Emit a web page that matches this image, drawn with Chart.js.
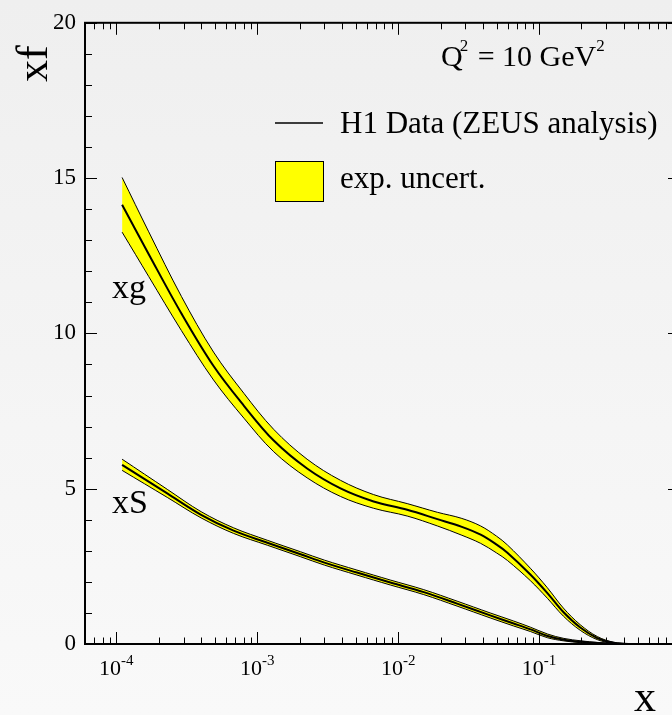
<!DOCTYPE html>
<html>
<head>
<meta charset="utf-8">
<title>xf vs x, Q2 = 10 GeV2</title>
<script src="https://cdn.jsdelivr.net/npm/chart.js@4.4.0/dist/chart.umd.min.js"></script>
<style>
  html, body {
    margin: 0;
    padding: 0;
    width: 672px;
    height: 715px;
    overflow: hidden;
    background: linear-gradient(to bottom, #efefef, #f9f9f9);
  }
  #pdf-chart { position: absolute; left: 0; top: 0; }
</style>
</head>
<body>
<canvas id="pdf-chart" width="690" height="715"></canvas>
<script>
// Gluon (xg): x points, central value and band edges
const xgX     = [1.1e-4, 1.7e-4, 2.9e-4, 4.9e-4, 8.05e-4, 1.31e-3, 2.26e-3, 3.9e-3, 6.7e-3, 1.16e-2, 1.9e-2, 2.8e-2, 3.85e-2, 5e-2, 5.96e-2, 8.67e-2, 0.1146, 0.1486, 0.196, 0.259, 0.336, 0.445, 0.7, 1.0];
const xgMid   = [14.14, 12.55, 10.64, 8.95, 7.67, 6.55, 5.65, 5.01, 4.59, 4.32, 4.02, 3.78, 3.52, 3.20, 2.94, 2.24, 1.64, 1.03, 0.53, 0.19, 0.04, 0.00, 0, 0];
const xgUpper = [15.02, 13.27, 11.19, 9.40, 8.07, 6.91, 5.95, 5.27, 4.81, 4.52, 4.24, 4.05, 3.80, 3.47, 3.19, 2.44, 1.81, 1.16, 0.62, 0.24, 0.06, 0.01, 0, 0];
const xgLower = [13.26, 11.83, 10.09, 8.50, 7.27, 6.19, 5.35, 4.75, 4.37, 4.12, 3.80, 3.51, 3.24, 2.93, 2.69, 2.04, 1.47, 0.90, 0.44, 0.14, 0.02, 0.00, 0, 0];

// Sea (xS)
const xsX     = [1.1e-4, 2.3e-4, 4e-4, 6.8e-4, 1.18e-3, 2.03e-3, 3e-3, 5.1e-3, 8.8e-3, 1.52e-2, 2.62e-2, 4.5e-2, 6.6e-2, 8.7e-2, 0.115, 0.15, 0.2, 0.26, 0.34, 0.45, 1.0];
const xsMid   = [5.77, 4.85, 4.16, 3.65, 3.26, 2.89, 2.62, 2.30, 1.98, 1.67, 1.30, 0.92, 0.66, 0.47, 0.26, 0.14, 0.07, 0.03, 0.01, 0, 0];
const xsUpper = [5.95, 4.98, 4.26, 3.74, 3.34, 2.97, 2.70, 2.38, 2.06, 1.75, 1.38, 1.00, 0.74, 0.54, 0.32, 0.18, 0.10, 0.05, 0.02, 0, 0];
const xsLower = [5.59, 4.72, 4.06, 3.56, 3.18, 2.81, 2.54, 2.22, 1.90, 1.59, 1.22, 0.84, 0.58, 0.40, 0.20, 0.10, 0.04, 0.01, 0.00, 0, 0];

// Axis ranges and labelled ticks
const xRange = [6e-5, 1];
const yRange = [0, 20];
const xLabelExponents = [-4, -3, -2, -1];

const SERIF = '"Liberation Serif", "Times New Roman", serif';
const BAND_YELLOW = '#ffff00';

function pts(xs, ys) {
    return xs.map((x, i) => ({ x: x, y: ys[i] }));
}

function edge(xs, ys, fill) {
    return {
        data: pts(xs, ys),
        borderColor: '#000',
        borderWidth: 1,
        backgroundColor: BAND_YELLOW,
        fill: fill,
        pointRadius: 0,
        tension: 0.35
    };
}

function central(xs, ys) {
    return {
        data: pts(xs, ys),
        borderColor: '#000',
        borderWidth: 2,
        fill: false,
        pointRadius: 0,
        tension: 0.35
    };
}

// Ticks point inwards on all four sides, plus all the free text
const frameAndText = {
    id: 'frameAndText',
    afterDatasetsDraw(chart) {
        const ctx = chart.ctx;
        const a = chart.chartArea;
        const xs = chart.scales.x;
        const ys = chart.scales.y;

        ctx.save();
        ctx.strokeStyle = '#000';
        ctx.fillStyle = '#000';

        // log ticks on bottom and top
        ctx.lineWidth = 1;
        ctx.beginPath();
        for (let d = -5; d <= 0; d++) {
            for (let m = 1; m <= 9; m++) {
                const v = m * Math.pow(10, d);
                if (v < xRange[0] || v > xRange[1]) continue;
                const px = Math.round(xs.getPixelForValue(v)) + 0.5;
                const len = m === 1 ? 12 : 6.5;
                ctx.moveTo(px, a.bottom);
                ctx.lineTo(px, a.bottom - len);
                ctx.moveTo(px, a.top);
                ctx.lineTo(px, a.top + len);
            }
        }
        // linear ticks on left and right
        for (let v = yRange[0]; v <= yRange[1]; v++) {
            const py = Math.round(ys.getPixelForValue(v)) + 0.5;
            const len = v % 5 === 0 ? 12 : 7;
            ctx.moveTo(a.left, py);
            ctx.lineTo(a.left + len, py);
            ctx.moveTo(a.right, py);
            ctx.lineTo(a.right - len, py);
        }
        ctx.stroke();

        // frame
        ctx.lineWidth = 2;
        ctx.strokeRect(a.left, a.top, a.right - a.left, a.bottom - a.top);

        // x tick labels 10^n
        xLabelExponents.forEach(function(e) {
            const px = xs.getPixelForValue(Math.pow(10, e));
            ctx.font = '22px ' + SERIF;
            const w1 = ctx.measureText('10').width;
            ctx.font = '15px ' + SERIF;
            const sup = String(e);
            const w2 = ctx.measureText(sup).width;
            const start = px - (w1 + w2) / 2;
            ctx.font = '22px ' + SERIF;
            ctx.fillText('10', start, 675);
            ctx.font = '15px ' + SERIF;
            ctx.fillText(sup, start + w1, 665);
        });

        // axis titles
        ctx.font = '44px ' + SERIF;
        ctx.fillText('x', 634, 711);
        ctx.save();
        ctx.translate(47, 82);
        ctx.rotate(-Math.PI / 2);
        ctx.fillText('xf', 0, 0);
        ctx.restore();

        // curve names
        ctx.font = '34px ' + SERIF;
        ctx.fillText('xg', 112, 298);
        ctx.fillText('xS', 112, 513);

        // Q^2 annotation
        let cx = 441;
        ctx.font = '30px ' + SERIF;
        ctx.fillText('Q', cx, 66);
        cx += ctx.measureText('Q').width - 3;
        ctx.font = '17px ' + SERIF;
        ctx.fillText('2', cx, 51);
        cx += ctx.measureText('2').width + 2;
        ctx.font = '30px ' + SERIF;
        ctx.fillText(' = 10 GeV', cx, 66);
        cx += ctx.measureText(' = 10 GeV').width;
        ctx.font = '17px ' + SERIF;
        ctx.fillText('2', cx, 51);

        // legend
        ctx.lineWidth = 1.5;
        ctx.beginPath();
        ctx.moveTo(275, 123);
        ctx.lineTo(323, 123);
        ctx.stroke();
        ctx.fillStyle = BAND_YELLOW;
        ctx.fillRect(275.5, 161.5, 48, 40);
        ctx.lineWidth = 1;
        ctx.strokeRect(275.5, 161.5, 48, 40);
        ctx.fillStyle = '#000';
        ctx.font = '31px ' + SERIF;
        ctx.fillText('H1 Data (ZEUS analysis)', 340, 133);
        ctx.fillText('exp. uncert.', 340, 188);

        ctx.restore();
    }
};

new Chart(document.getElementById('pdf-chart'), {
    type: 'line',
    data: {
        datasets: [
            edge(xgX, xgLower, false),
            edge(xgX, xgUpper, '-1'),
            central(xgX, xgMid),
            edge(xsX, xsLower, false),
            edge(xsX, xsUpper, '-1'),
            central(xsX, xsMid)
        ]
    },
    options: {
        responsive: false,
        animation: false,
        devicePixelRatio: 1,
        layout: { padding: { top: 16, right: 10, left: 0, bottom: 0 } },
        plugins: {
            legend: { display: false },
            tooltip: { enabled: false },
            filler: { drawTime: 'beforeDatasetsDraw' }
        },
        scales: {
            x: {
                type: 'logarithmic',
                min: xRange[0],
                max: xRange[1],
                grid: { display: false, drawTicks: false },
                border: { display: false },
                ticks: { display: false },
                afterFit: function(scale) { scale.height = 71; }
            },
            y: {
                type: 'linear',
                min: yRange[0],
                max: yRange[1],
                grid: { display: false, drawTicks: false },
                border: { display: false },
                ticks: {
                    stepSize: 5,
                    padding: 9,
                    color: '#000',
                    font: { family: SERIF, size: 23 }
                },
                afterFit: function(scale) { scale.width = 85; }
            }
        }
    },
    plugins: [frameAndText]
});
</script>
</body>
</html>
